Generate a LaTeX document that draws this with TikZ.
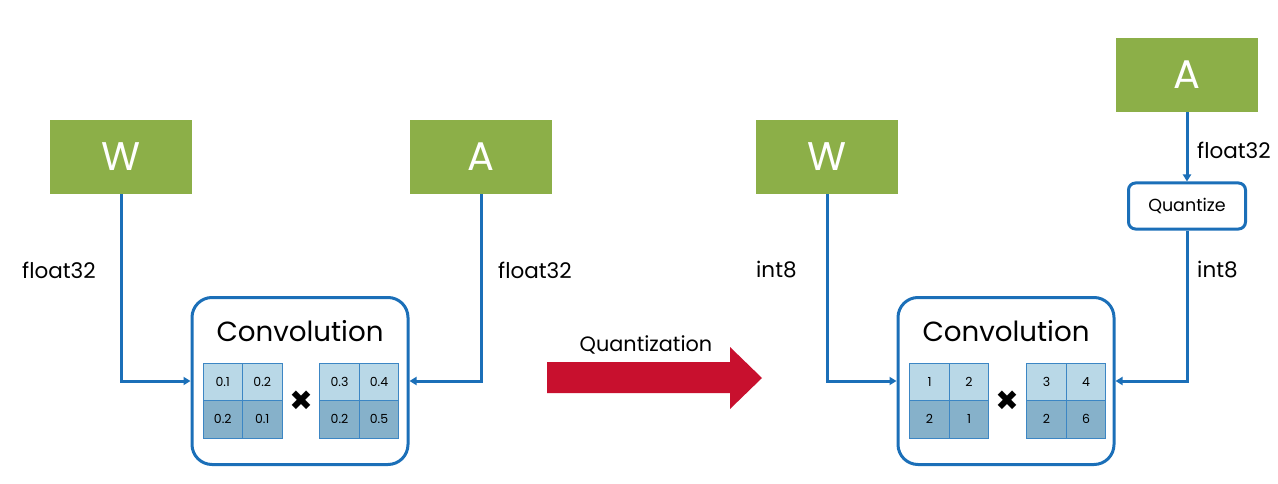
\documentclass[tikz,border=0pt]{standalone}
\usepackage{fontspec}
\setmainfont{Poppins}
\newfontfamily\symfont{DejaVu Sans}
\usetikzlibrary{arrows.meta}
\definecolor{wgreen}{HTML}{8CAF48}
\definecolor{iblue}{HTML}{1B6FB8}
\definecolor{clight}{HTML}{B9D8E7}
\definecolor{cdark}{HTML}{86B1CA}
\definecolor{cborder}{HTML}{3C86C4}
\definecolor{qred}{HTML}{C8102E}
\tikzset{
  gbox/.style={fill=wgreen, minimum width=142pt, minimum height=74pt, inner sep=0pt, text=white, font=\fontsize{40}{40}\selectfont},
  convbox/.style={draw=iblue, line width=3pt, rounded corners=20pt, minimum width=216pt, minimum height=167pt, inner sep=0pt},
  qbox/.style={draw=iblue, line width=3pt, rounded corners=7pt, minimum width=117pt, minimum height=46pt, inner sep=0pt, font=\fontsize{17.5}{17.5}\selectfont},
  wire/.style={draw=iblue, line width=3pt},
  arr/.style={wire, -{Triangle[length=7pt,width=8pt]}},
  lab/.style={anchor=west, inner sep=0pt, font=\fontsize{21.5}{21.5}\selectfont},
  celll/.style={fill=clight, draw=cborder, line width=1pt, minimum width=39.5pt, minimum height=37.5pt, inner sep=0pt, font=\fontsize{12.5}{12.5}\selectfont},
  celld/.style={celll, fill=cdark},
  convtxt/.style={inner sep=0pt, font=\fontsize{27.7}{27.7}\selectfont},
  times/.style={inner sep=0pt, font=\symfont\fontsize{28}{28}\selectfont},
}
\newcommand\mycells[7]{%
  \node[celll] (#1a) at (#2,#3) {#4};
  \node[celll] (#1b) at (#2+39.5,#3) {#5};
  \node[celld] (#1c) at (#2,#3+37.5) {#6};
  \node[celld] (#1d) at (#2+39.5,#3+37.5) {#7};
}
\begin{document}
\begin{tikzpicture}[x=1pt,y=-1pt]
\useasboundingbox (0,0) rectangle (1278,484);
% left side
\node[gbox] (wL) at (121,157) {W};
\node[gbox] (aL) at (481,157) {A};
\node[convbox] (cL) at (300,381) {};
\node[convtxt] (ctL) at (300,331) {Convolution};
\mycells{mLa}{222.75}{381.75}{0.1}{0.2}{0.2}{0.1}
\mycells{mLb}{339.5}{381.75}{0.3}{0.4}{0.2}{0.5}
\node[times] (xL) at (301,401) {✖};
\draw[arr] (wL.south) |- (cL.west);
\draw[arr] (aL.south) |- (cL.east);
\node[lab] (lf1) at (22,270) {float32};
\node[lab] (lf2) at (498,270) {float32};
% middle arrow
\fill[qred] (547,362) -- (730,362) -- (730,347) -- (762,378) -- (730,409) -- (730,393) -- (547,393) -- cycle;
\node[inner sep=0pt, font=\fontsize{20.8}{20.8}\selectfont] (qt) at (646,345) {Quantization};
% right side
\node[gbox] (wR) at (827,157) {W};
\node[gbox] (aR) at (1187,75) {A};
\node[qbox] (q) at (1187,206) {Quantize};
\node[convbox] (cR) at (1006,381) {};
\node[convtxt] (ctR) at (1006,331) {Convolution};
\mycells{mRa}{929.5}{381.75}{1}{2}{2}{1}
\mycells{mRb}{1046.5}{381.75}{3}{4}{2}{6}
\node[times] (xR) at (1007,401) {✖};
\draw[arr] (wR.south) |- (cR.west);
\draw[arr] (aR.south) -- (q.north);
\draw[arr] (q.south) |- (cR.east);
\node[lab] (li1) at (756,270) {int8};
\node[lab] (li2) at (1197,270) {int8};
\node[lab] (lf3) at (1197,150) {float32};
\end{tikzpicture}
\end{document}
